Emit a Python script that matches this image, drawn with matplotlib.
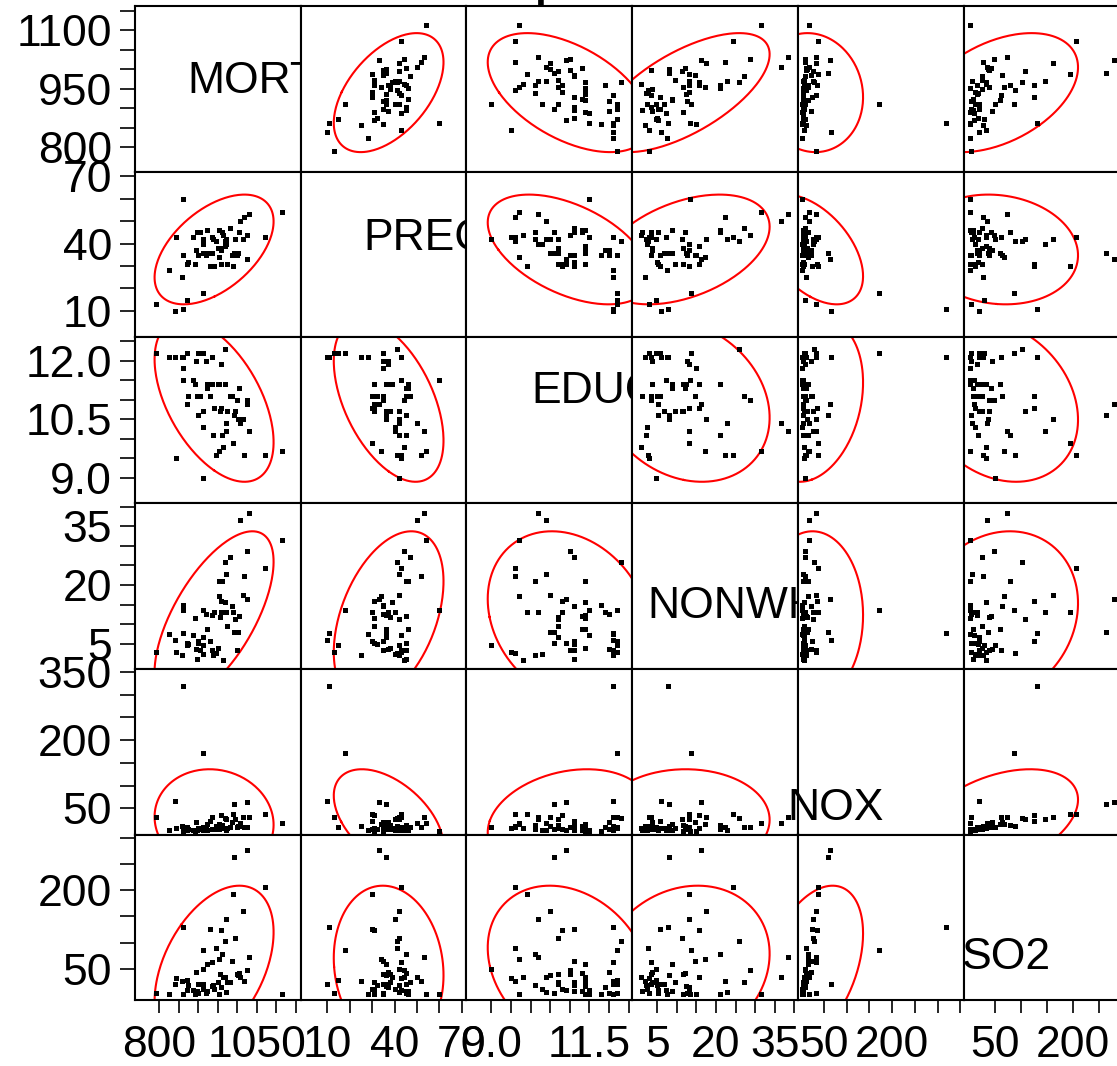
import numpy as np
import matplotlib
matplotlib.use("Agg")
import matplotlib.pyplot as plt
from matplotlib.patches import Rectangle

plt.rcParams['font.family'] = ['Liberation Sans', 'DejaVu Sans']

# pollution data, 60 cities
names = ['MORT', 'PREC', 'EDUC', 'NONWHITE', 'NOX', 'SO2']

mort = [921.870, 997.875, 962.354, 982.291, 1071.289, 1030.380, 934.700, 899.529, 1001.902, 912.347,
        1017.613, 1024.885, 970.467, 985.950, 958.839, 860.101, 936.234, 871.766, 959.221, 941.181,
        891.708, 871.338, 971.122, 887.466, 952.529, 968.665, 919.729, 844.053, 861.833, 989.265,
        1006.490, 861.439, 929.150, 857.622, 961.009, 923.234, 1113.156, 994.648, 1015.023, 991.290,
        893.991, 938.500, 946.185, 1025.502, 874.281, 953.560, 839.709, 911.701, 790.733, 899.264,
        904.155, 950.672, 972.464, 912.202, 967.803, 823.764, 1003.502, 895.696, 911.817, 954.442]
prec = [36, 35, 44, 47, 43, 53, 43, 45, 36, 36, 52, 33, 40, 35, 37, 35, 36, 15, 31, 30,
        31, 31, 42, 43, 46, 39, 35, 43, 11, 30, 50, 60, 30, 25, 45, 46, 54, 42, 42, 36,
        37, 42, 41, 44, 32, 34, 10, 18, 13, 35, 45, 38, 31, 40, 41, 28, 45, 45, 42, 38]
educ = [11.4, 11.0, 9.8, 11.1, 9.6, 10.2, 12.1, 10.6, 10.5, 10.7, 9.6, 10.9, 10.2, 11.1, 11.9,
        11.8, 11.4, 12.2, 10.8, 10.8, 11.4, 10.9, 10.4, 11.5, 11.4, 11.4, 12.0, 9.5, 12.1, 9.9,
        10.4, 11.5, 11.1, 12.1, 10.1, 11.3, 9.7, 10.7, 10.5, 10.6, 12.0, 10.1, 9.6, 11.0, 11.1,
        9.7, 12.1, 12.2, 12.2, 12.2, 11.1, 11.4, 10.7, 10.3, 12.3, 12.1, 11.3, 11.1, 9.0, 10.7]
nonw = [8.8, 3.5, 0.8, 27.1, 24.4, 38.5, 3.5, 5.3, 8.1, 6.7, 22.2, 16.3, 13.0, 14.7, 13.1,
        14.8, 12.4, 4.7, 15.8, 13.1, 11.5, 5.1, 22.7, 7.2, 21.0, 15.6, 12.6, 2.9, 7.8, 13.1,
        36.7, 13.5, 5.8, 2.0, 21.0, 8.8, 31.4, 11.3, 17.5, 8.1, 3.6, 2.2, 2.7, 28.6, 5.0,
        17.2, 5.9, 13.7, 3.0, 5.7, 3.4, 3.8, 9.5, 2.5, 25.9, 7.5, 12.1, 1.0, 4.8, 11.7]
nox = [15, 10, 6, 8, 38, 32, 32, 4, 12, 7, 8, 63, 26, 21, 9, 1, 4, 8, 35, 4,
       1, 3, 3, 3, 5, 7, 4, 7, 319, 37, 18, 1, 23, 11, 14, 3, 17, 26, 32, 59,
       21, 4, 11, 9, 4, 15, 66, 171, 32, 7, 4, 5, 7, 2, 28, 2, 11, 3, 8, 13]
so2 = [59, 39, 33, 24, 206, 72, 62, 4, 37, 20, 27, 278, 146, 64, 15, 1, 16, 28, 124, 11,
       1, 10, 5, 10, 1, 33, 4, 32, 130, 193, 34, 1, 125, 26, 78, 8, 1, 108, 161, 263,
       44, 18, 89, 48, 18, 68, 20, 86, 3, 20, 20, 25, 25, 11, 102, 1, 42, 8, 49, 39]

data = [mort, prec, educ, nonw, nox, so2]

# tick positions and labelled ticks per variable
ticks = [np.arange(800, 1151, 50), np.arange(10, 71, 10), np.arange(9.0, 12.51, 0.5),
         np.arange(5, 41, 5), np.arange(50, 351, 50), np.arange(50, 301, 50)]
ylabs = [['800', '950', '1100'], ['10', '40', '70'], ['9.0', '10.5', '12.0'],
         ['5', '20', '35'], ['50', '200', '350'], ['50', '200']]
xlabs = [['800', '1050'], ['10', '40', '70'], ['9.0', '11.5'],
         ['5', '20', '35'], ['50', '200'], ['50', '200']]

# axis ranges (same for x and y of a variable)
lims = [(738, 1162), (-1.8, 72), (8.36, 12.59), (-1.4, 40.9), (-7.5, 357), (-10.5, 307)]

# diagonal label offsets in px (left, baseline from cell top)
diag_pos = [(52, 87), (63, 78), (65, 66), (15, 115), (-10, 151), (-2, 135)]

W, H = 1117, 1066
L, T, S = 135, 6, 165.7

fig = plt.figure(figsize=(W / 100, H / 100), dpi=100)
fig.patch.set_facecolor('white')


def ellipse(x, y, n=240):
    # 95% normal density ellipse
    x = np.asarray(x, float)
    y = np.asarray(y, float)
    cov = np.cov(x, y)
    vals, vecs = np.linalg.eigh(cov)
    t = np.linspace(0, 2 * np.pi, n)
    r = np.sqrt(5.991)
    circ = np.vstack([np.cos(t), np.sin(t)]) * np.sqrt(vals)[:, None] * r
    pts = vecs @ circ
    return pts[0] + x.mean(), pts[1] + y.mean()


def tick_text(v, k, keep):
    s = ('%.1f' % v) if k == 2 else str(int(round(v)))
    return s if s in keep else ''


for i in range(6):
    for j in range(6):
        left = L + j * S
        bottom = T + (i + 1) * S
        ax = fig.add_axes([left / W, 1 - bottom / H, S / W, S / H])
        ax.set_xlim(lims[j])
        ax.set_ylim(lims[i])
        for sp in ax.spines.values():
            sp.set_linewidth(1.5)
            sp.set_color('black')

        if i == j:
            dx, dy = diag_pos[i]
            txt = ax.text(dx / S, 1 - dy / S, names[i], transform=ax.transAxes,
                          fontsize=32, ha='left', va='baseline', color='black')
            # clip only at the right edge of the cell
            clip = Rectangle((-1, 0), 2, 1, transform=ax.transAxes, facecolor='none',
                             edgecolor='none')
            ax.add_artist(clip)
            clip.set_visible(False)
            txt.set_clip_path(clip)
        else:
            ex, ey = ellipse(data[j], data[i])
            ax.plot(ex, ey, color='red', lw=1.5)
            ax.plot(data[j], data[i], 's', ms=3.6, color='black', mew=0)

        if j == 0:
            ax.set_yticks(ticks[i])
            ax.set_yticklabels([tick_text(v, i, ylabs[i]) for v in ticks[i]])
            ax.tick_params(axis='y', length=10.5, width=1.2, labelsize=32, pad=6)
        else:
            ax.set_yticks([])
        if i == 5:
            ax.set_xticks(ticks[j])
            ax.set_xticklabels([tick_text(v, j, xlabs[j]) for v in ticks[j]])
            ax.tick_params(axis='x', length=9.5, width=1.2, labelsize=32, pad=8)
        else:
            ax.set_xticks([])

# title, mostly above the canvas
fig.text(394 / W, 1 + 3 / H, 'Scatterplot Matrix', fontsize=30, fontweight='bold',
         ha='left', va='baseline')

fig.savefig('out.png', dpi=100)
